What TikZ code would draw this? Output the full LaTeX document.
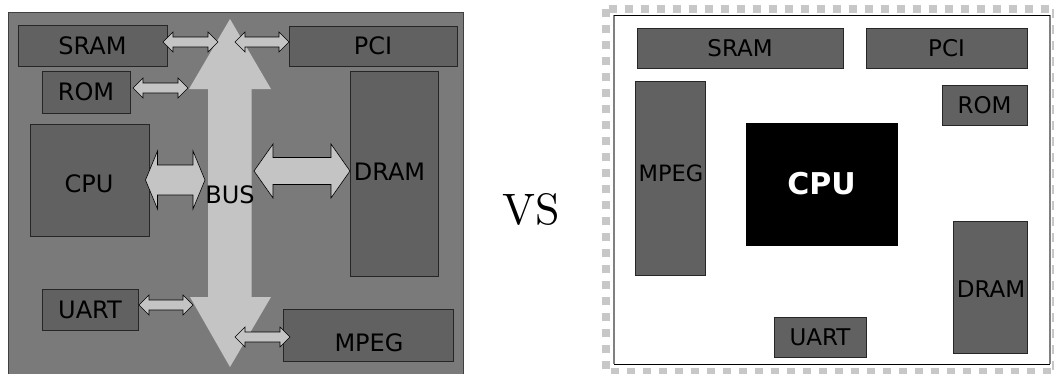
\documentclass[tikz,border=0pt]{standalone}
\usepackage{fontspec}
\setmainfont{DejaVu Sans}
\newfontfamily\lmserif{lmroman10-regular.otf}
\begin{document}
\begin{tikzpicture}[x=1pt,y=-1pt,
  panel/.style={draw=black!75,fill=black!52,line width=0.9pt},
  blk/.style={draw=black!85,fill=black!62,line width=0.8pt,inner sep=0pt},
  lbl/.style={font=\fontsize{24}{28}\selectfont,text=black,inner sep=0pt},
  rlbl/.style={font=\fontsize{23}{27}\selectfont,text=black,inner sep=0pt},
  busfill/.style={fill=black!23},
  arr/.style={draw=black,fill=black!23,line width=0.6pt,line join=miter}]
\newcommand\dblarr[6]{% x1, x2, y, shaft half, head half, head length
  \path[arr] (#1,#3) -- (#1+#6,#3-#5) -- (#1+#6,#3-#4) -- (#2-#6,#3-#4) -- (#2-#6,#3-#5)
    -- (#2,#3) -- (#2-#6,#3+#5) -- (#2-#6,#3+#4) -- (#1+#6,#3+#4) -- (#1+#6,#3+#5) -- cycle;}
\useasboundingbox (0,0) rectangle (1054,373);
\begin{scope}
\clip (0,0) rectangle (1054,373);
% ---------- left panel ----------
\draw[panel] (8,12.5) rectangle (463,380);
\node[blk,minimum width=149pt,minimum height=41pt] (sramL) at (92.5,45.5) {};
\node[blk,minimum width=168pt,minimum height=40pt] (pciL) at (373,46) {};
\node[blk,minimum width=88pt,minimum height=42pt] (romL) at (86,92) {};
\node[blk,minimum width=119pt,minimum height=112pt] (cpuL) at (89.5,180) {};
\node[blk,minimum width=88pt,minimum height=205pt] (dramL) at (394,173.5) {};
\node[blk,minimum width=96pt,minimum height=41pt] (uartL) at (90,309.5) {};
\node[blk,minimum width=170pt,minimum height=52pt] (mpegL) at (368,335) {};
\node[lbl] at (sramL) {SRAM};
\node[lbl] at (pciL) {PCI};
\node[lbl] at (romL) {ROM};
\node[lbl] at (89,184) {CPU};
\node[lbl] at (389.5,172) {DRAM};
\node[lbl] at (uartL) {UART};
\node[lbl] at (369,343) {MPEG};
% bus
\path[busfill] (230,19) -- (271,89) -- (251.5,89) -- (251.5,297) -- (271,297) -- (230,367)
  -- (190,297) -- (208,297) -- (208,89) -- (189,89) -- cycle;
\node[lbl] (bus) at (230,195) {BUS};
% small arrows
\dblarr{163}{218}{42}{5}{10}{10}
\dblarr{235}{289}{42}{5}{10}{10}
\dblarr{133}{188}{88}{5}{10}{10}
\dblarr{145.5}{205}{180}{15}{29}{12}
\dblarr{254}{350}{171}{13.5}{27}{19}
\dblarr{139}{193}{305}{5}{10}{10}
\dblarr{235}{290}{337}{5}{10}{10}
% ---------- VS ----------
\node[font=\lmserif\fontsize{44}{50}\selectfont,inner sep=0pt] (vs) at (531,209) {VS};
% ---------- right panel ----------
\draw[black!22,line width=8pt,dash pattern=on 8.5pt off 7.5pt] (606,8.5) rectangle (1056,372);
\fill[white] (614,15) rectangle (1050,364);
\draw[black!50,line width=1.6pt] (614,15) -- (614,364) (1050,15) -- (1050,364);
\draw[black,line width=1pt] (614,15) -- (1050,15) (614,364) -- (1050,364);
\node[blk,minimum width=206pt,minimum height=40pt] (sramR) at (740,48) {};
\node[blk,minimum width=161pt,minimum height=40pt] (pciR) at (946.5,48) {};
\node[blk,minimum width=85pt,minimum height=40pt] (romR) at (984.5,105) {};
\node[blk,minimum width=70pt,minimum height=194pt] (mpegR) at (670,178) {};
\node[fill=black,draw=black,inner sep=0pt,minimum width=151pt,minimum height=122pt] (cpuR) at (821.5,184) {};
\node[blk,minimum width=74pt,minimum height=132pt] (dramR) at (990,287) {};
\node[blk,minimum width=92pt,minimum height=40pt] (uartR) at (820,337) {};
\node[rlbl] at (sramR) {SRAM};
\node[rlbl] at (pciR) {PCI};
\node[rlbl] at (romR) {ROM};
\node[rlbl,font=\fontsize{22.5}{27}\selectfont] at (671,173.5) {MPEG};
\node[font=\bfseries\fontsize{30}{34}\selectfont,text=white,inner sep=0pt] at (cpuR) {CPU};
\node[rlbl] at (991,289) {DRAM};
\node[rlbl] at (uartR) {UART};
\end{scope}
\end{tikzpicture}
\end{document}
